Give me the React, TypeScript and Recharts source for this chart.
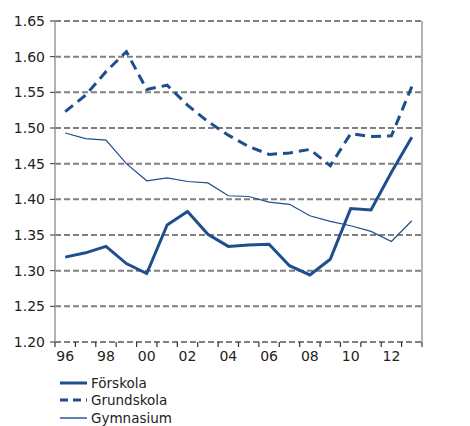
import { CartesianGrid, Line, LineChart, XAxis, YAxis } from 'recharts';

const years = [1996, 1997, 1998, 1999, 2000, 2001, 2002, 2003, 2004, 2005, 2006, 2007, 2008, 2009, 2010, 2011, 2012, 2013];
const forskola = [1.319, 1.325, 1.334, 1.31, 1.296, 1.364, 1.383, 1.351, 1.334, 1.336, 1.337, 1.307, 1.294, 1.316, 1.387, 1.385, 1.438, 1.487];
const grundskola = [1.523, 1.546, 1.579, 1.607, 1.554, 1.56, 1.532, 1.509, 1.49, 1.474, 1.463, 1.465, 1.47, 1.447, 1.492, 1.488, 1.489, 1.558];
const gymnasium = [1.493, 1.485, 1.483, 1.45, 1.426, 1.43, 1.425, 1.423, 1.405, 1.404, 1.396, 1.393, 1.377, 1.369, 1.363, 1.355, 1.341, 1.37];
const yTicks = [1.2, 1.25, 1.3, 1.35, 1.4, 1.45, 1.5, 1.55, 1.6, 1.65];
const labelYears = [1996, 1998, 2000, 2002, 2004, 2006, 2008, 2010, 2012];

const BLUE = '#1f4e8c';
const FONT = 'DejaVu Sans, Verdana, sans-serif';

const data = years.map((year, i) => ({
  year,
  forskola: forskola[i],
  grundskola: grundskola[i],
  gymnasium: gymnasium[i],
}));

// tick marks sit between the years
const bandEdges = [...years.map((y) => y - 0.5), years[years.length - 1] + 0.5];
const xDomain = [bandEdges[0], bandEdges[bandEdges.length - 1]];

const series = [
  { key: 'forskola', name: 'Förskola', width: 3, dash: undefined },
  { key: 'grundskola', name: 'Grundskola', width: 3, dash: '10 6' },
  { key: 'gymnasium', name: 'Gymnasium', width: 1.2, dash: undefined },
];

const tickStyle = { fill: '#222', fontSize: 14, fontFamily: FONT };

const App = () => {
  return (
    <div style={{ position: 'absolute', left: 0, top: 0, width: 470, height: 426, background: '#fff' }}>
      <LineChart width={470} height={372} data={data} margin={{ top: 21, right: 0, bottom: 0, left: 0 }}>
        <CartesianGrid yAxisId='l' vertical={false} stroke='#808080' strokeWidth={2} strokeDasharray='6 3' />
        {/* id 0 is laid out next to the plot, so it carries the tick marks */}
        <XAxis
          xAxisId={0}
          dataKey='year'
          type='number'
          domain={xDomain}
          ticks={bandEdges}
          interval={0}
          tickFormatter={() => ''}
          tickSize={5}
          tickLine={{ stroke: '#333', strokeWidth: 1.2 }}
          axisLine={false}
          height={1}
        />
        <XAxis
          xAxisId='lbl'
          dataKey='year'
          type='number'
          domain={xDomain}
          ticks={labelYears}
          interval={0}
          tickFormatter={(v: number) => String(v % 100).padStart(2, '0')}
          tick={tickStyle}
          tickLine={false}
          axisLine={false}
          height={29}
        />
        <YAxis
          yAxisId='l'
          domain={[1.2, 1.65]}
          ticks={yTicks}
          tickFormatter={(v: number) => v.toFixed(2)}
          tick={tickStyle}
          tickSize={5}
          tickMargin={5}
          tickLine={{ stroke: '#333' }}
          axisLine={{ stroke: '#a6a6a6', strokeWidth: 1.7 }}
          width={55}
        />
        <YAxis
          yAxisId='r'
          orientation='right'
          domain={[1.2, 1.65]}
          ticks={yTicks}
          tickFormatter={(v: number) => v.toFixed(2)}
          tick={tickStyle}
          tickSize={5}
          tickMargin={5}
          tickLine={{ stroke: '#333' }}
          axisLine={{ stroke: '#a6a6a6', strokeWidth: 1.7 }}
          width={48}
        />
        {series.map((s) => (
          <Line
            key={s.key}
            xAxisId={0}
            yAxisId='l'
            type='linear'
            dataKey={s.key}
            name={s.name}
            stroke={BLUE}
            strokeWidth={s.width}
            strokeDasharray={s.dash}
            dot={false}
            activeDot={false}
            isAnimationActive={false}
          />
        ))}
      </LineChart>
      <div style={{ position: 'absolute', left: 60, top: 374, fontFamily: FONT, fontSize: 13.5, color: '#222' }}>
        {series.map((s) => (
          <div key={s.key} style={{ display: 'flex', alignItems: 'center', height: 17.5 }}>
            <svg width={31} height={10}>
              <line x1={0} y1={5} x2={27} y2={5} stroke={BLUE} strokeWidth={s.width === 3 ? 3 : 2} strokeDasharray={s.dash ? '8 5' : undefined} opacity={s.width === 3 ? 1 : 0.7} />
            </svg>
            <span>{s.name}</span>
          </div>
        ))}
      </div>
    </div>
  );
};

export default App;
